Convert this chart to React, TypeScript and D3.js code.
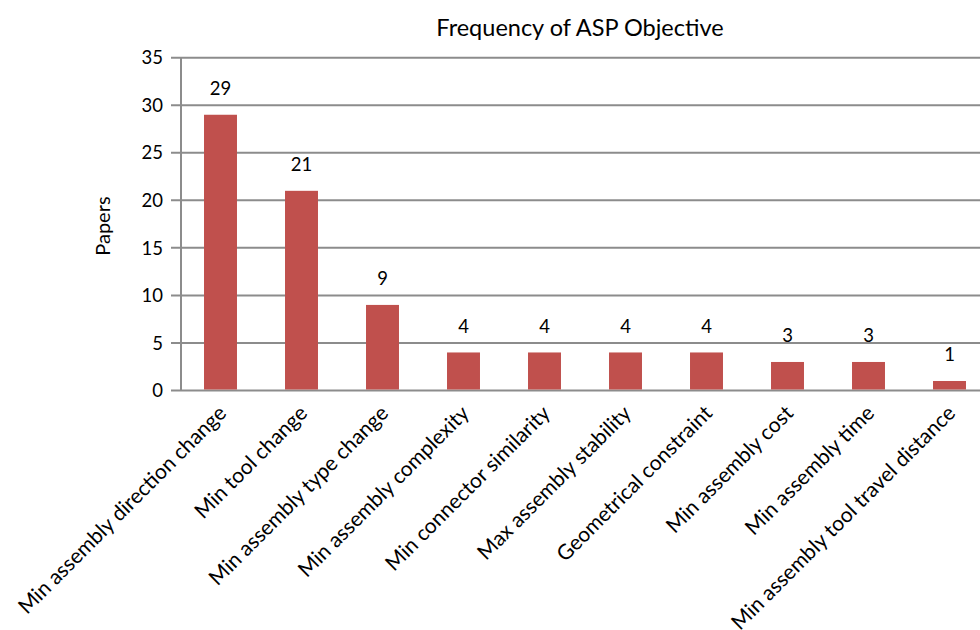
import React from "react";
import * as d3 from "d3";

const categories = [
  "Min assembly direction change",
  "Min tool change",
  "Min assembly type change",
  "Min assembly complexity",
  "Min connector similarity",
  "Max assembly stability",
  "Geometrical constraint",
  "Min assembly cost",
  "Min assembly time",
  "Min assembly tool travel distance",
];
const papers = [29, 21, 9, 4, 4, 4, 4, 3, 3, 1];
const yTicks = [0, 5, 10, 15, 20, 25, 30, 35];
const title = "Frequency of ASP Objective";
const yLabel = "Papers";

const W = 980;
const H = 630;
const FONT = "Lato, 'Open Sans', sans-serif";

export default function App() {
  const left = 180;
  const right = 990;
  const top = 57.7;
  const bottom = 390.5;
  const x = d3
    .scaleBand<string>()
    .domain(categories)
    .range([left, right])
    .paddingInner(0.593)
    .paddingOuter(0.2965);
  const y = d3.scaleLinear().domain([0, 35]).range([bottom, top]);
  const grid = "#8c8c8c";

  return (
    <div style={{ position: "fixed", left: 0, top: 0, width: W, height: H, background: "#fff" }}>
      <svg width={W} height={H} style={{ display: "block", overflow: "hidden" }} fontFamily={FONT}>
        <rect width={W} height={H} fill="#fff" />
        <text x={580} y={36} textAnchor="middle" fontSize={23.5} fill="#000">
          {title}
        </text>
        {yTicks.map((t) => (
          <g key={t}>
            <line x1={left - 9} x2={right} y1={y(t)} y2={y(t)} stroke={grid} strokeWidth={2} />
            <text x={163} y={y(t)} dy="0.36em" textAnchor="end" fontSize={18.5} fill="#000">
              {t}
            </text>
          </g>
        ))}
        <line x1={left + 1} x2={left + 1} y1={top} y2={bottom} stroke={grid} strokeWidth={2} />
        <text
          transform={`translate(110,${(top + bottom) / 2 + 2}) rotate(-90)`}
          textAnchor="middle"
          fontSize={20}
          fill="#000"
        >
          {yLabel}
        </text>
        {categories.map((c, i) => {
          const bx = x(c)!;
          const bw = x.bandwidth();
          const cx = bx + bw / 2;
          return (
            <g key={c}>
              <rect x={bx} y={y(papers[i])} width={bw} height={bottom - y(papers[i]) - 1} fill="#c0504d" />
              <text x={cx} y={y(papers[i]) - 19.5} textAnchor="middle" fontSize={18.5} fill="#000">
                {papers[i]}
              </text>
              <text
                transform={`translate(${cx + 7},${bottom + 24}) rotate(-45)`}
                textAnchor="end"
                fontSize={21}
                fill="#000"
              >
                {c}
              </text>
            </g>
          );
        })}
      </svg>
    </div>
  );
}
